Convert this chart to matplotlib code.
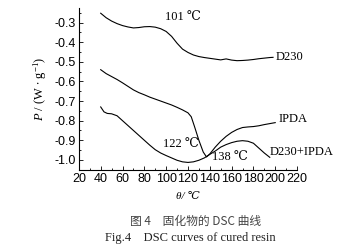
import numpy as np
import matplotlib
matplotlib.use("Agg")
import matplotlib.pyplot as plt
from matplotlib.ticker import MultipleLocator

plt.rcParams['axes.unicode_minus'] = False
plt.rcParams['mathtext.fontset'] = 'custom'
plt.rcParams['mathtext.rm'] = 'Liberation Serif'
plt.rcParams['mathtext.it'] = 'Liberation Serif:italic'

# DSC curves (temperature in C, heat flow in W/g)
t_d230 = [40, 45, 50, 55, 60, 65, 70, 75, 80, 85, 90, 95, 100, 105, 110, 115, 120,
          125, 130, 135, 140, 145, 150, 155, 160, 165, 170, 175, 180, 185, 190, 195, 198]
p_d230 = [-0.252, -0.275, -0.292, -0.305, -0.315, -0.322, -0.327, -0.325, -0.321, -0.320,
          -0.323, -0.331, -0.345, -0.370, -0.405, -0.435, -0.452, -0.465, -0.473, -0.478,
          -0.482, -0.486, -0.490, -0.485, -0.491, -0.494, -0.493, -0.491, -0.488, -0.484,
          -0.481, -0.478, -0.477]

t_ipda = [40, 45, 50, 55, 60, 65, 70, 75, 80, 85, 90, 95, 100, 105, 110, 115, 120, 123,
          126, 130, 134, 137, 140, 145, 150, 155, 160, 165, 170, 175, 180, 185, 190, 195, 200]
p_ipda = [-0.540, -0.560, -0.575, -0.590, -0.607, -0.625, -0.643, -0.657, -0.668, -0.680,
          -0.690, -0.700, -0.710, -0.720, -0.732, -0.745, -0.760, -0.780, -0.830, -0.900,
          -0.960, -0.985, -0.970, -0.935, -0.905, -0.880, -0.860, -0.845, -0.835, -0.832,
          -0.830, -0.826, -0.820, -0.815, -0.810]

t_mix = [40, 43, 46, 50, 55, 60, 65, 70, 75, 80, 85, 90, 95, 100, 105, 110, 115, 120, 125,
         130, 135, 140, 145, 150, 155, 160, 165, 170, 175, 180, 185, 190, 195]
p_mix = [-0.730, -0.755, -0.763, -0.765, -0.775, -0.800, -0.825, -0.850, -0.875, -0.900,
         -0.925, -0.948, -0.965, -0.978, -0.990, -1.002, -1.010, -1.013, -1.010, -1.002,
         -0.990, -0.972, -0.955, -0.935, -0.922, -0.912, -0.905, -0.902, -0.905, -0.915,
         -0.940, -0.965, -0.987]

fig = plt.figure(figsize=(3.43, 2.48), dpi=100)
ax = fig.add_axes([0.230, 0.315, 0.636, 0.653])

for t, p in [(t_d230, p_d230), (t_ipda, p_ipda), (t_mix, p_mix)]:
    ax.plot(t, p, color='black', lw=0.8)

ax.set_xlim(20, 220)
ax.set_ylim(-1.051, -0.225)
ax.xaxis.set_major_locator(MultipleLocator(20))
ax.xaxis.set_minor_locator(MultipleLocator(10))
ax.yaxis.set_minor_locator(MultipleLocator(0.05))
ax.set_yticks(np.arange(-1.0, -0.25, 0.1))
ax.set_yticklabels(['%.1f' % v for v in np.arange(-1.0, -0.25, 0.1)])
ax.spines['top'].set_visible(False)
ax.spines['right'].set_visible(False)
for s in ['left', 'bottom']:
    ax.spines[s].set_linewidth(0.8)
ax.tick_params(which='both', direction='in', width=0.6, pad=2,
               labelsize=9, labelfontfamily='Liberation Sans')
ax.tick_params(which='major', length=3)
ax.tick_params(which='minor', length=1.5)

serif = ['Liberation Serif', 'DejaVu Serif', 'Noto Sans CJK SC']
ax.set_ylabel(r'$\mathit{P}$ / (W $\bullet$ g$^{-1}$)', fontsize=9, family=serif, labelpad=4)
ax.set_xlabel('θ/ ℃', fontsize=8, family=serif, style='italic', labelpad=5)

lab = dict(fontsize=9, family=serif, va='center', ha='left')
ax.text(98.9, -0.271, '101 ℃', **lab)
ax.text(200.7, -0.475, 'D230', **lab)
ax.text(202.6, -0.792, 'IPDA', **lab)
ax.text(195, -0.961, 'D230+IPDA', **lab)
ax.text(96.8, -0.919, '122 ℃', **lab)
ax.text(141.7, -0.987, '138 ℃', **lab)

fig.text(0.571, 1 - 221.7 / 248, '图 4　固化物的 DSC 曲线', fontsize=8.5,
         family=['Noto Sans CJK SC', 'DejaVu Sans'], color='#444444', ha='center', va='center')
fig.text(0.554, 1 - 238 / 248, 'Fig.4　DSC curves of cured resin', fontsize=9,
         family=['Liberation Serif', 'Noto Sans CJK SC'], color='#222222', ha='center', va='center')

fig.savefig('out.png', dpi=100)
